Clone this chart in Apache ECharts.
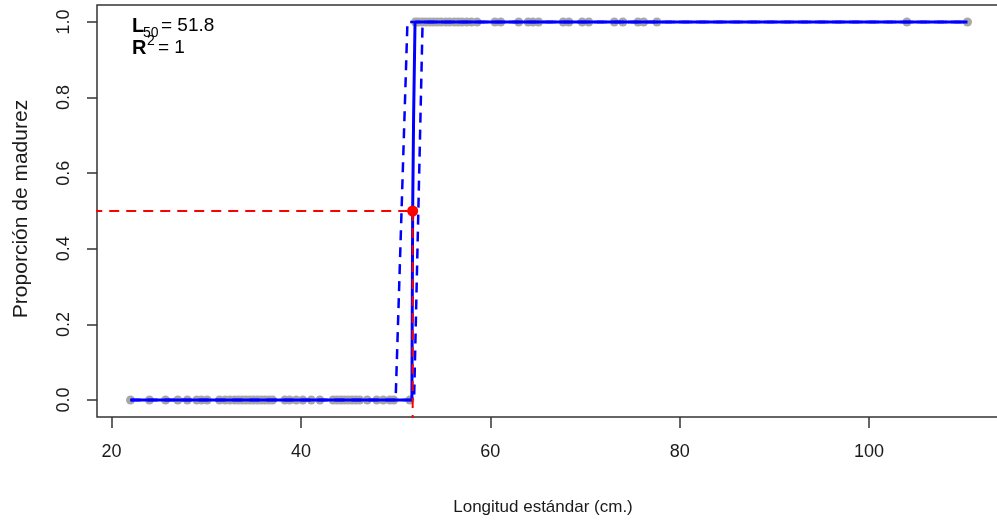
<!DOCTYPE html>
<html>
<head>
<meta charset="utf-8">
<script src="https://cdn.jsdelivr.net/npm/echarts@6/dist/echarts.min.js"></script>
<style>html,body{margin:0;padding:0;background:#fff}#c{width:997px;height:522px}</style>
</head>
<body>
<div id="c"></div>
<script>
// Observed lengths (cm) of immature (0) and mature (1) fish
const immatureX = [22.0, 24.0, 25.7, 27.0, 28.0, 29.0, 29.5, 30.1, 31.4, 32.0, 32.5, 33.0, 33.4, 33.8, 34.2, 34.6, 35.0, 35.4, 35.8, 36.2, 36.6, 37.0, 38.3, 38.8, 39.5, 40.2, 41.1, 42.0, 43.4, 43.8, 44.2, 44.6, 45.0, 45.4, 45.8, 46.2, 47.0, 48.0, 48.7, 49.4, 49.8, 51.5];
const matureX = [52.1, 52.4, 52.8, 53.2, 53.6, 54.0, 54.4, 54.8, 55.3, 55.7, 56.2, 56.6, 57.0, 57.5, 58.0, 58.6, 60.5, 61.1, 63.0, 64.0, 64.5, 65.1, 67.7, 68.3, 69.7, 70.4, 73.1, 74.0, 75.6, 76.2, 77.6, 104.0, 110.4];

// Fitted logistic curve and confidence bounds
const fitX = [22.0, 51.72, 51.8, 51.9, 52.05, 110.4];
const fitY = [0, 0, 0.5, 0.75, 1, 1];
const lowerX = [22.0, 50.0, 51.25, 110.4];
const lowerY = [0, 0, 1, 1];
const upperX = [22.0, 51.95, 52.85, 110.4];
const upperY = [0, 0, 1, 1];

const L50 = 51.8;
const halfP = 0.5;
const R2 = 1;

const xTicks = [20, 40, 60, 80, 100];
const yTicks = [0, 0.2, 0.4, 0.6, 0.8, 1.0];

const chart = echarts.init(document.getElementById('c'));
const pairs = (xs, ys) => xs.map((x, i) => [x, ys[i]]);
const FONT = "'Liberation Sans', Arial, sans-serif";
const dash = [10, 7];

chart.setOption({
  animation: false,
  backgroundColor: '#ffffff',
  grid: { left: 97, top: 5, width: 904, height: 412, show: true, borderColor: '#333', borderWidth: 1.5, backgroundColor: 'transparent', containLabel: false, outerBoundsMode: 'none' },
  xAxis: {
    type: 'value', min: 18.46, max: 113.94,
    axisLine: { show: false, onZero: false },
    splitLine: { show: false },
    axisTick: { show: true, customValues: xTicks, length: 11, lineStyle: { color: '#333', width: 1.5 } },
    axisLabel: { customValues: xTicks, margin: 26, fontSize: 18, fontFamily: FONT, color: '#1a1a1a' }
  },
  yAxis: {
    type: 'value', min: -0.045, max: 1.045,
    axisLine: { show: false, onZero: false },
    splitLine: { show: false },
    axisTick: { show: true, customValues: yTicks, length: 10, lineStyle: { color: '#333', width: 1.5 } },
    axisLabel: { customValues: yTicks, rotate: 90, margin: 24, fontSize: 18, fontFamily: FONT, color: '#1a1a1a', formatter: v => v.toFixed(1) }
  },
  graphic: [
    { type: 'text', x: 543, y: 507, style: { text: 'Longitud estándar (cm.)', font: '17px ' + FONT, fill: '#1a1a1a', textAlign: 'center', textVerticalAlign: 'middle' } },
    { type: 'text', rotation: Math.PI / 2, x: 21, y: 209, style: { text: 'Proporción de madurez', font: '21px ' + FONT, fill: '#1a1a1a', textAlign: 'center', textVerticalAlign: 'middle' } },
    { type: 'text', x: 132, y: 26, style: { text: 'L', font: 'bold 20px ' + FONT, fill: '#000', textAlign: 'left', textVerticalAlign: 'middle' } },
    { type: 'text', x: 143, y: 33, style: { text: '50', font: '14px ' + FONT, fill: '#000', textAlign: 'left', textVerticalAlign: 'middle' } },
    { type: 'text', x: 161, y: 26, style: { text: '= ' + L50.toFixed(1), font: '19px ' + FONT, fill: '#000', textAlign: 'left', textVerticalAlign: 'middle' } },
    { type: 'text', x: 132, y: 48, style: { text: 'R', font: 'bold 20px ' + FONT, fill: '#000', textAlign: 'left', textVerticalAlign: 'middle' } },
    { type: 'text', x: 147, y: 41, style: { text: '2', font: '14px ' + FONT, fill: '#000', textAlign: 'left', textVerticalAlign: 'middle' } },
    { type: 'text', x: 158, y: 48, style: { text: '= ' + R2, font: '19px ' + FONT, fill: '#000', textAlign: 'left', textVerticalAlign: 'middle' } }
  ],
  series: [
    { type: 'scatter', data: immatureX.map(x => [x, 0]), symbolSize: 9, itemStyle: { color: '#a8a8a8', opacity: 1 }, z: 1 },
    { type: 'scatter', data: matureX.map(x => [x, 1]), symbolSize: 9, itemStyle: { color: '#a8a8a8', opacity: 1 }, z: 1 },
    { type: 'line', data: pairs(lowerX, lowerY), symbol: 'none', lineStyle: { color: '#0000ff', width: 2.5, type: dash }, z: 2 },
    { type: 'line', data: pairs(upperX, upperY), symbol: 'none', lineStyle: { color: '#0000ff', width: 2.5, type: dash }, z: 2 },
    { type: 'line', data: pairs(fitX, fitY), symbol: 'none', lineStyle: { color: '#0000ff', width: 3 }, z: 3 },
    { type: 'line', data: [[0, halfP], [L50, halfP]], symbol: 'none', clip: true, lineStyle: { color: '#ff0000', width: 2, type: dash }, z: 4 },
    { type: 'line', data: [[L50, halfP], [L50, -0.3]], symbol: 'none', clip: true, lineStyle: { color: '#ff0000', width: 2, type: dash }, z: 4 },
    { type: 'scatter', data: [[L50, halfP]], symbolSize: 11, itemStyle: { color: '#ff0000', opacity: 1 }, z: 5 }
  ]
});
</script>
</body>
</html>
